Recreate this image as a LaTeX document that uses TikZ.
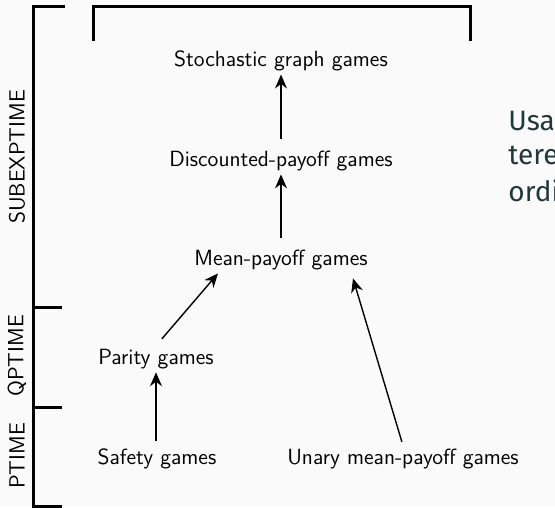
\documentclass[tikz,border=0pt]{standalone}
\usepackage{fontspec}
\newfontfamily\slidefont{Fira Sans}
\usetikzlibrary{arrows.meta}
\definecolor{slidebg}{HTML}{FAFAFA}
\definecolor{slidetext}{HTML}{23373B}
\begin{document}
\begin{tikzpicture}[
		x=0.5pt, y=-0.5pt,
		game/.style={font=\sffamily\fontsize{11}{13}\selectfont, inner sep=1.5pt},
		level/.style={font=\sffamily\fontsize{11}{13}\selectfont, rotate=90},
		reduce/.style={-{Stealth[length=7pt,width=6pt]}, line width=0.7pt, shorten <=4.5pt},
		bracket/.style={line width=1.5pt},
		slide/.style={anchor=base west, font=\slidefont\fontsize{14}{18}\selectfont, text=slidetext, inner sep=0pt}
	]
	\useasboundingbox[fill=slidebg] (0,0) rectangle (555,507);

	% Brackets
	\draw[bracket] (65,7) -- (33,7) -- (33,506) -- (62,506);
	\draw[bracket] (33,307) -- (62,307);
	\draw[bracket] (33,407) -- (62,407);
	\draw[bracket] (93,41) -- (93,7) -- (470,7) -- (470,41);

	% Complexity classes
	\node[level] (subexp) at (17,157) {SUBEXPTIME};
	\node[level] (qp) at (17,356) {QPTIME};
	\node[level] (p) at (17,456) {PTIME};

	% Games
	\node[game] (stoch) at (281,61) {Stochastic graph games};
	\node[game] (disc) at (281,161) {Discounted-payoff games};
	\node[game] (mean) at (281,260) {Mean-payoff games};
	\node[game] (parity) at (156,359) {Parity games};
	\node[game] (safety) at (157,459) {Safety games};
	\node[game] (unary) at (403,459) {Unary mean-payoff games};

	% Reductions
	\draw[reduce] (disc) -- (stoch);
	\draw[reduce] (mean) -- (disc);
	\draw[reduce, shorten <=2pt] (safety.north -| parity) -- (parity);
	\draw[reduce] (parity.north) -- ([xshift=-31.5pt]mean.south);
	\draw[reduce, shorten <=2pt] (unary.north) -- ([xshift=36pt,yshift=-2.5pt]mean.south);

	% Slide text
	\node[slide] (line1) at (508,131) {Usar};
	\node[slide] (line2) at (508,165) {tere};
	\node[slide] (line3) at (508,202) {ordin};
\end{tikzpicture}
\end{document}
